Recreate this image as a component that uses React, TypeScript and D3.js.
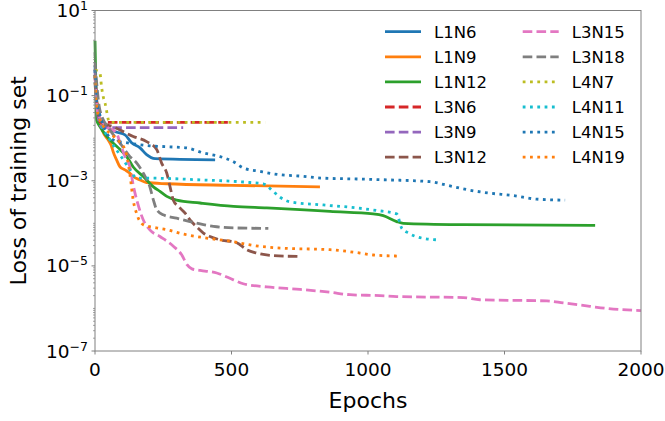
import React from "react";
import * as d3 from "d3";

const W = 665;
const H = 421;
const margin = { left: 95, right: 24, top: 10.5, bottom: 70 };

const xTicks = [0, 500, 1000, 1500, 2000];
const yMajorExps = [1, -1, -3, -5, -7];

const l1n6Epochs = [0, 3, 6, 18, 73, 110, 134, 165, 189, 220, 440];
const l1n6Loss = [0.5, 0.2, 0.079, 0.027, 0.0143, 0.012, 0.0078, 0.0059, 0.0041, 0.0033, 0.0031];

const l1n9Epochs = [0, 3, 6, 29, 48, 61, 66, 79, 92, 110, 128, 140, 165, 189, 263, 500, 824];
const l1n9Loss = [0.3, 0.15, 0.079, 0.0143, 0.0091, 0.0063, 0.0049, 0.0031, 0.0021, 0.0018, 0.0015, 0.00126, 0.00105, 0.00091, 0.00085, 0.00078, 0.00072];

const l1n12Epochs = [0, 3, 6, 18, 43, 67, 92, 116, 140, 177, 214, 238, 263, 299, 385, 507, 629, 751, 861, 1019, 1056, 1105, 1129, 1349, 1832];
const l1n12Loss = [1.95, 0.2, 0.027, 0.0186, 0.011, 0.0076, 0.0054, 0.0037, 0.0021, 0.00126, 0.00072, 0.00056, 0.00043, 0.00035, 0.0003, 0.00025, 0.00023, 0.00021, 0.00019, 0.000166, 0.000151, 0.00011, 0.0001, 0.000093, 0.000089];

const l3n6Epochs = [0, 5, 10, 20, 494];
const l3n6Loss = [0.3, 0.1, 0.04, 0.0234, 0.0234];

const l3n9Epochs = [0, 5, 12, 25, 323];
const l3n9Loss = [0.4, 0.08, 0.03, 0.0178, 0.0178];

const l3n12Epochs = [0, 10, 30, 67, 92, 140, 189, 226, 244, 263, 275, 287, 305, 330, 348, 372, 397, 421, 458, 519, 556, 592, 653, 751];
const l3n12Loss = [0.2, 0.04, 0.0224, 0.0186, 0.0155, 0.011, 0.0083, 0.0054, 0.0026, 0.0015, 0.00072, 0.00035, 0.00025, 0.000174, 0.00012, 0.000083, 0.000059, 0.000049, 0.000041, 0.000035, 0.000024, 0.00002, 0.0000174, 0.0000166];

const l3n15Epochs = [0, 10, 37, 79, 92, 110, 128, 140, 158, 177, 201, 238, 287, 318, 337, 355, 385, 446, 507, 543, 629, 751, 861, 934, 1044, 1105, 1349, 1410, 1655, 1715, 1813, 1874, 2000];
const l3n15Loss = [0.3, 0.04, 0.02, 0.0132, 0.0076, 0.0037, 0.0021, 0.00079, 0.00027, 0.00012, 0.00007, 0.000049, 0.000029, 0.000018, 0.0000107, 0.0000085, 0.0000078, 0.0000068, 0.0000047, 0.0000038, 0.0000032, 0.0000028, 0.0000024, 0.0000021, 0.000002, 0.0000019, 0.0000018, 0.0000016, 0.0000015, 0.00000135, 0.00000112, 0.000001, 0.00000089];

const l3n18Epochs = [0, 18, 55, 92, 128, 153, 177, 201, 214, 226, 250, 299, 348, 397, 446, 507, 635];
const l3n18Loss = [0.6, 0.046, 0.0155, 0.0076, 0.0037, 0.0026, 0.0015, 0.00072, 0.00035, 0.00021, 0.000158, 0.000132, 0.00011, 0.000093, 0.000083, 0.000078, 0.000076];

const l4n7Epochs = [0, 18, 24, 30, 37, 43, 49, 55, 623];
const l4n7Loss = [0.4, 0.34, 0.16, 0.095, 0.066, 0.042, 0.027, 0.0234, 0.0234];

const l4n11Epochs = [0, 5, 18, 55, 104, 128, 153, 201, 385, 568, 616, 653, 678, 714, 836, 959, 1032, 1105, 1123, 1148, 1197, 1251];
const l4n11Loss = [0.3, 0.063, 0.027, 0.0091, 0.0031, 0.0018, 0.00115, 0.00115, 0.00105, 0.00091, 0.00085, 0.00056, 0.00041, 0.00032, 0.00027, 0.00023, 0.0002, 0.000166, 0.000078, 0.000059, 0.000045, 0.000041];

const l4n15Epochs = [0, 5, 18, 67, 128, 201, 263, 336, 397, 458, 507, 543, 604, 678, 751, 836, 959, 1068, 1227, 1288, 1361, 1447, 1532, 1618, 1722];
const l4n15Loss = [0.4, 0.079, 0.035, 0.0091, 0.0076, 0.0066, 0.0063, 0.0059, 0.0045, 0.0037, 0.0028, 0.002, 0.00166, 0.00138, 0.00129, 0.00115, 0.0011, 0.00105, 0.00095, 0.00079, 0.00062, 0.00051, 0.00045, 0.00037, 0.00035];

const l4n19Epochs = [0, 5, 18, 73, 110, 128, 140, 153, 177, 226, 263, 323, 409, 507, 568, 690, 861, 971, 1019, 1111];
const l4n19Loss = [0.3, 0.063, 0.027, 0.0102, 0.0054, 0.00138, 0.00035, 0.000166, 0.000093, 0.000078, 0.000071, 0.000056, 0.000045, 0.000037, 0.000031, 0.000026, 0.000024, 0.00002, 0.000018, 0.000017];

const seriesNames = ["L1N6", "L1N9", "L1N12", "L3N6", "L3N9", "L3N12", "L3N15", "L3N18", "L4N7", "L4N11", "L4N15", "L4N19"];
const seriesEpochs = [l1n6Epochs, l1n9Epochs, l1n12Epochs, l3n6Epochs, l3n9Epochs, l3n12Epochs, l3n15Epochs, l3n18Epochs, l4n7Epochs, l4n11Epochs, l4n15Epochs, l4n19Epochs];
const seriesLoss = [l1n6Loss, l1n9Loss, l1n12Loss, l3n6Loss, l3n9Loss, l3n12Loss, l3n15Loss, l3n18Loss, l4n7Loss, l4n11Loss, l4n15Loss, l4n19Loss];
const seriesColors = ["#1f77b4", "#ff7f0e", "#2ca02c", "#d62728", "#9467bd", "#8c564b", "#e377c2", "#7f7f7f", "#bcbd22", "#17becf", "#1f77b4", "#ff7f0e"];
const seriesStyles = ["solid", "solid", "solid", "dashed", "dashed", "dashed", "dashed", "dashed", "dotted", "dotted", "dotted", "dotted"];

const LW = 2.8;
const dashFor = (s: string) => (s === "dashed" ? "9.6,4.2" : s === "dotted" ? "2.8,4.5" : undefined);

export default function App() {
  const x = d3.scaleLinear().domain([0, 2000]).range([margin.left, W - margin.right]);
  const y = d3.scaleLog().domain([1e-7, 10]).range([H - margin.bottom, margin.top]);
  const line = d3
    .line<[number, number]>()
    .x((d) => x(d[0]))
    .y((d) => y(d[1]))
    .curve(d3.curveMonotoneX);

  const x0 = margin.left;
  const x1 = W - margin.right;
  const y0 = H - margin.bottom;
  const y1 = margin.top;

  const minor: number[] = [];
  for (let e = -7; e < 1; e++) {
    for (let m = 1; m < 10; m++) {
      const v = m * Math.pow(10, e);
      if (m === 1 && (e % 2 !== 0)) continue;
      minor.push(v);
    }
  }

  const font = "DejaVu Sans, sans-serif";
  const legendRows = 6;
  const legendX = [385, 522.7];
  const legendY0 = 31.7;
  const legendDy = 25.1;

  return (
    <svg
      width={W}
      height={H}
      style={{ position: "fixed", left: 0, top: 0, background: "#fff" }}
      fontFamily={font}
    >
      <rect x={0} y={0} width={W} height={H} fill="#fff" />
      {seriesNames.map((name, i) => {
        const pts = seriesEpochs[i].map((e, j) => [e, seriesLoss[i][j]] as [number, number]);
        return (
          <path
            key={name}
            d={line(pts) || ""}
            fill="none"
            stroke={seriesColors[i]}
            strokeWidth={LW}
            strokeDasharray={dashFor(seriesStyles[i])}
            strokeLinecap="butt"
            strokeLinejoin="round"
          />
        );
      })}
      <rect x={x0} y={y1} width={x1 - x0} height={y0 - y1} fill="none" stroke="#808080" strokeWidth={1} />
      {xTicks.map((t) => (
        <g key={t}>
          <line x1={x(t)} x2={x(t)} y1={y0} y2={y0 + 3.5} stroke="#808080" strokeWidth={1} />
          <text x={x(t)} y={y0 + 25} fontSize={18.5} textAnchor="middle" fill="#000">
            {t}
          </text>
        </g>
      ))}
      {minor.map((v, i) => (
        <line key={i} x1={x0} x2={x0 - 2} y1={y(v)} y2={y(v)} stroke="#808080" strokeWidth={0.7} />
      ))}
      {yMajorExps.map((e) => {
        const yy = y(Math.pow(10, e));
        const expStr = e < 0 ? "\u2212" + Math.abs(e) : String(e);
        return (
          <g key={e}>
            <line x1={x0} x2={x0 - 3.5} y1={yy} y2={yy} stroke="#808080" strokeWidth={1} />
            <text x={88} y={yy + 6.5} fontSize={18.5} textAnchor="end" fill="#000">
              10
              <tspan fontSize={12.5} dy={-7}>
                {expStr}
              </tspan>
            </text>
          </g>
        );
      })}
      <text x={(x0 + x1) / 2} y={408} fontSize={22} textAnchor="middle" fill="#000">
        Epochs
      </text>
      <text
        transform={`translate(26,${(y0 + y1) / 2}) rotate(-90)`}
        fontSize={22}
        textAnchor="middle"
        fill="#000"
      >
        Loss of training set
      </text>
      {seriesNames.map((name, i) => {
        const col = Math.floor(i / legendRows);
        const row = i % legendRows;
        const lx = legendX[col];
        const ly = legendY0 + row * legendDy;
        return (
          <g key={"lg" + name}>
            <line
              x1={lx}
              x2={lx + 36}
              y1={ly}
              y2={ly}
              stroke={seriesColors[i]}
              strokeWidth={LW}
              strokeDasharray={dashFor(seriesStyles[i])}
            />
            <text x={lx + 49} y={ly + 6} fontSize={16.5} fill="#000">
              {name}
            </text>
          </g>
        );
      })}
    </svg>
  );
}
